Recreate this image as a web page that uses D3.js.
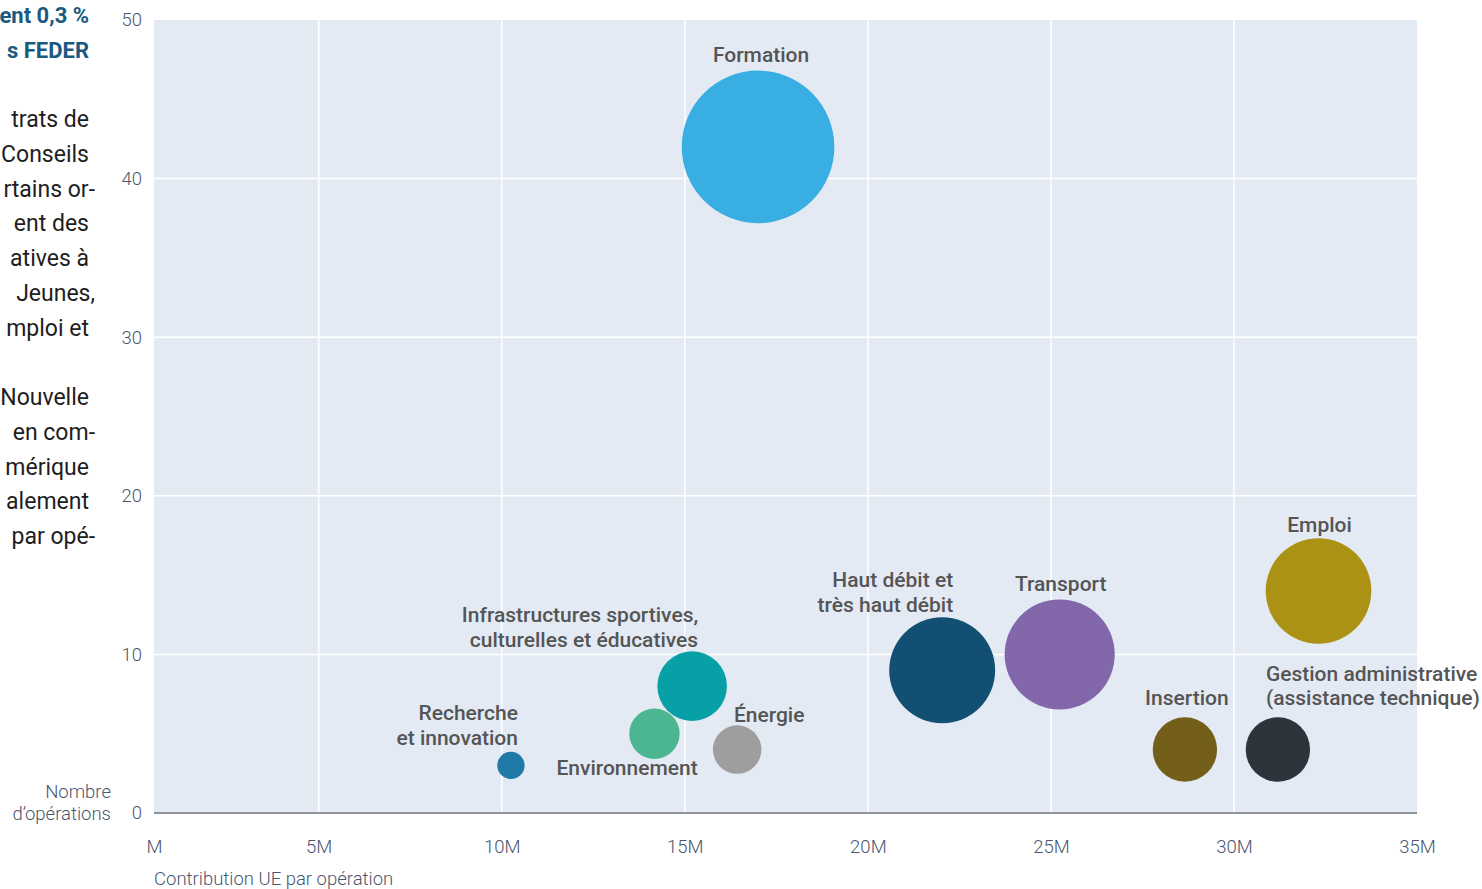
<!DOCTYPE html>
<html lang="fr">
<head>
<meta charset="utf-8">
<script src="https://cdn.jsdelivr.net/npm/d3@7"></script>
<style>
    body { margin: 0; background: #fff; overflow: hidden; font-family: Roboto, sans-serif; }
    svg { display: block; }
</style>
</head>
<body>
<svg id="chart"></svg>
<script>
// Thématiques (dans l'ordre de tracé)
const categories = ['Formation', 'Recherche et innovation', 'Environnement',
    'Infrastructures sportives, culturelles et éducatives', 'Énergie',
    'Haut débit et très haut débit', 'Transport', 'Emploi', 'Insertion',
    'Gestion administrative (assistance technique)'];
// contribution UE par opération, en M
const contribution = [17.0, 10.25, 14.17, 15.2, 16.43, 22.03, 25.24, 32.31, 28.66, 31.2];
// nombre d'opérations
const operations = [42, 3, 5, 8, 4, 9, 10, 14, 4, 4];
// poids relatif de la bulle (Formation = 100)
const weight = [100, 3.2, 10.9, 20.8, 10.1, 48.2, 52, 47.9, 17.8, 17.8];
const labelLines = [['Formation'], ['Recherche', 'et innovation'], ['Environnement'],
    ['Infrastructures sportives,', 'culturelles et éducatives'], ['Énergie'],
    ['Haut débit et', 'très haut débit'], ['Transport'], ['Emploi'], ['Insertion'],
    ['Gestion administrative', '(assistance technique)']];

const xTicks = [0.5, 5, 10, 15, 20, 25, 30, 35];
const xTickLabels = ['M', '5M', '10M', '15M', '20M', '25M', '30M', '35M'];
const yTicks = [0, 10, 20, 30, 40, 50];

const palette = ['#38aee3', '#1f7aa8', '#4bb68f', '#07a0a7', '#9e9e9e',
    '#124f73', '#8267aa', '#ab9114', '#735f19', '#2e343c'];

// where each label sits relative to its bubble centre (px)
const labelPlace = {
    'Formation': { anchor: 'middle', dx: 3, dy: -85 },
    'Recherche et innovation': { anchor: 'end', dx: 7, dy: -45 },
    'Environnement': { anchor: 'start', dx: -98, dy: 41 },
    'Infrastructures sportives, culturelles et éducatives': { anchor: 'end', dx: 6, dy: -64 },
    'Énergie': { anchor: 'middle', dx: 32, dy: -28 },
    'Haut débit et très haut débit': { anchor: 'end', dx: 11, dy: -83 },
    'Transport': { anchor: 'middle', dx: 1, dy: -63 },
    'Emploi': { anchor: 'middle', dx: 1, dy: -59 },
    'Insertion': { anchor: 'middle', dx: 2, dy: -45 },
    'Gestion administrative (assistance technique)': { anchor: 'start', dx: -12, dy: -69 }
};

// bout visible du texte de la colonne voisine
const sideTitle = ['ent 0,3 %', 's FEDER'];
const sideBody = ['trats de', 'Conseils', 'rtains or-', 'ent des', 'atives à',
    'Jeunes,', 'mploi et', '', 'Nouvelle', 'en com-', 'mérique', 'alement', 'par opé-'];

class BubbleChart {
    constructor(_config) {
        this.config = {
            parentElement: _config.parentElement,
            containerWidth: _config.containerWidth || 1482,
            containerHeight: _config.containerHeight || 889,
            plot: { left: 154, right: 1417, top: 20, bottom: 813 }
        };
        this.data = categories.map((c, i) => ({
            key: c,
            x: contribution[i],
            y: operations[i],
            w: weight[i],
            lines: labelLines[i]
        }));
        this.initVis();
    }

    initVis() {
        let vis = this;
        const p = vis.config.plot;

        vis.svg = d3.select(vis.config.parentElement)
            .attr('width', vis.config.containerWidth)
            .attr('height', vis.config.containerHeight);

        vis.xScale = d3.scaleLinear().domain([0.5, 35]).range([p.left, p.right]);
        vis.yScale = d3.scaleLinear().domain([0, 50]).range([p.bottom, p.top]);
        vis.rScale = d3.scaleSqrt().domain([0, 100]).range([0, 76.3]);
        vis.colorScale = d3.scaleOrdinal(categories, palette);

        // text column on the left (only its right end shows)
        const side = vis.svg.append('g').attr('class', 'side-text');
        side.selectAll('.side-title')
            .data(sideTitle)
            .join('text')
            .attr('class', 'side-title')
            .attr('x', 89)
            .attr('y', (d, i) => 23 + i * 34.5)
            .attr('text-anchor', 'end')
            .attr('font-size', '22px')
            .attr('font-weight', 700)
            .attr('fill', '#1b5a80')
            .text(d => d);
        side.selectAll('.side-body')
            .data(sideBody)
            .join('text')
            .attr('class', 'side-body')
            .attr('x', d => /[-,]$/.test(d) ? 95 : 89)
            .attr('y', (d, i) => 127 + i * 34.75)
            .attr('text-anchor', 'end')
            .attr('font-size', '23px')
            .attr('fill', '#1e1e1e')
            .text(d => d);

        vis.svg.append('rect')
            .attr('x', p.left)
            .attr('y', p.top)
            .attr('width', p.right - p.left)
            .attr('height', p.bottom - p.top)
            .attr('fill', '#e4eaf4');

        vis.svg.append('g')
            .selectAll('line')
            .data(xTicks.slice(1, -1))
            .join('line')
            .attr('x1', d => vis.xScale(d))
            .attr('x2', d => vis.xScale(d))
            .attr('y1', p.top)
            .attr('y2', p.bottom)
            .attr('stroke', '#fff')
            .attr('stroke-width', 1.5);

        vis.svg.append('g')
            .selectAll('line')
            .data(yTicks.slice(1, -1))
            .join('line')
            .attr('x1', p.left)
            .attr('x2', p.right)
            .attr('y1', d => vis.yScale(d))
            .attr('y2', d => vis.yScale(d))
            .attr('stroke', '#fff')
            .attr('stroke-width', 1.5);

        vis.xAxis = d3.axisBottom(vis.xScale)
            .tickValues(xTicks)
            .tickFormat((d, i) => xTickLabels[i])
            .tickSize(0)
            .tickPadding(27);
        vis.yAxis = d3.axisLeft(vis.yScale)
            .tickValues(yTicks)
            .tickSize(0)
            .tickPadding(12);

        vis.xAxisG = vis.svg.append('g')
            .attr('class', 'axis x-axis')
            .attr('transform', `translate(0,${p.bottom})`);
        vis.yAxisG = vis.svg.append('g')
            .attr('class', 'axis y-axis')
            .attr('transform', `translate(${p.left},0)`);

        vis.svg.append('line')
            .attr('x1', p.left)
            .attr('x2', p.right)
            .attr('y1', p.bottom)
            .attr('y2', p.bottom)
            .attr('stroke', '#8d949e')
            .attr('stroke-width', 2);

        vis.svg.append('text')
            .attr('x', 111)
            .attr('text-anchor', 'end')
            .attr('font-size', '18.5px')
            .attr('font-weight', 300)
            .attr('fill', '#4a5670')
            .selectAll('tspan')
            .data(['Nombre', 'd’opérations'])
            .join('tspan')
            .attr('x', 111)
            .attr('y', (d, i) => 798 + i * 22)
            .text(d => d);

        vis.svg.append('text')
            .attr('x', p.left)
            .attr('y', 885)
            .attr('font-size', '18.5px')
            .attr('font-weight', 300)
            .attr('fill', '#4a5670')
            .text('Contribution UE par opération');

        vis.renderVis();
    }

    renderVis() {
        let vis = this;

        vis.svg.append('g')
            .selectAll('.bubble')
            .data(vis.data)
            .join('circle')
            .attr('class', 'bubble')
            .attr('cx', d => vis.xScale(d.x))
            .attr('cy', d => vis.yScale(d.y))
            .attr('r', d => vis.rScale(d.w))
            .attr('fill', d => vis.colorScale(d.key));

        vis.svg.append('g')
            .selectAll('.label')
            .data(vis.data)
            .join('text')
            .attr('class', 'label')
            .attr('text-anchor', d => labelPlace[d.key].anchor)
            .attr('font-size', '21px')
            .attr('font-weight', 500)
            .attr('fill', '#555')
            .each(function (d) {
                const pl = labelPlace[d.key];
                const cx = vis.xScale(d.x) + pl.dx;
                const cy = vis.yScale(d.y) + pl.dy;
                d3.select(this).selectAll('tspan')
                    .data(d.lines)
                    .join('tspan')
                    .attr('x', cx)
                    .attr('y', (l, i) => cy + i * 24.5)
                    .text(l => l);
            });

        vis.xAxisG.call(vis.xAxis);
        vis.yAxisG.call(vis.yAxis);
        vis.svg.selectAll('.axis .domain').remove();
        vis.svg.selectAll('.axis text')
            .attr('font-family', 'Roboto, sans-serif')
            .attr('font-size', '18.5px')
            .attr('font-weight', 300)
            .attr('fill', '#4a5670');
    }
}

new BubbleChart({ parentElement: '#chart' });
</script>
</body>
</html>
